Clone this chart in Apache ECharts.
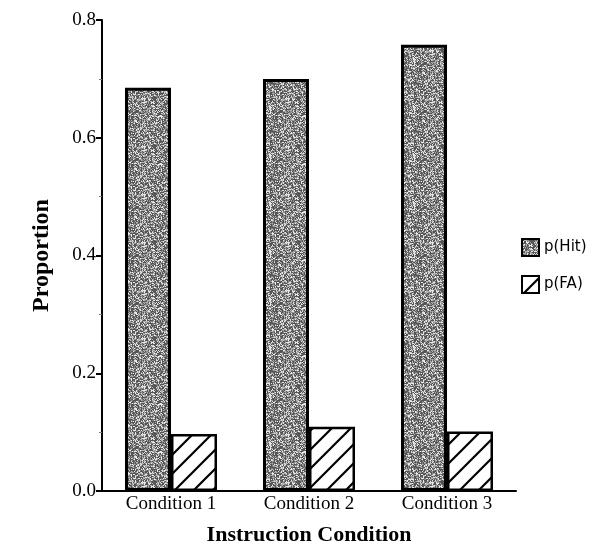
<!DOCTYPE html>
<html>
<head>
<meta charset="utf-8">
<script src="https://cdn.jsdelivr.net/npm/echarts@6/dist/echarts.min.js"></script>
<style>
  html, body { margin: 0; padding: 0; background: #fff; }
  #main { width: 603px; height: 551px; }
</style>
</head>
<body>
<div id="main"></div>
<script>
// 数据
var categories = ['Condition 1', 'Condition 2', 'Condition 3'];
var hitValues = [0.685, 0.70, 0.758];
var faValues = [0.097, 0.109, 0.101];
var yTicks = [0.0, 0.2, 0.4, 0.6, 0.8];

// 灰色点阵填充（固定的伪随机纹理）
function makeStipple() {
    var s = 48;
    var c = document.createElement('canvas');
    c.width = s; c.height = s;
    var ctx = c.getContext('2d');
    ctx.fillStyle = '#b4b4b4';
    ctx.fillRect(0, 0, s, s);
    var seed = 12345;
    for (var x = 0; x < s; x++) {
        for (var y = 0; y < s; y++) {
            seed = (seed * 1103515245 + 12345) & 0x7fffffff;
            var k = seed % 10;
            if (k < 3) { ctx.fillStyle = '#555'; ctx.fillRect(x, y, 1, 1); }
            else if (k < 5) { ctx.fillStyle = '#888'; ctx.fillRect(x, y, 1, 1); }
            else if (k < 7) { ctx.fillStyle = '#e8e8e8'; ctx.fillRect(x, y, 1, 1); }
        }
    }
    return c;
}

// 斜线填充
function makeHatch() {
    var s = 19;
    var c = document.createElement('canvas');
    c.width = s; c.height = s;
    var ctx = c.getContext('2d');
    ctx.fillStyle = '#fff';
    ctx.fillRect(0, 0, s, s);
    ctx.strokeStyle = '#000';
    ctx.lineWidth = 2.2;
    ctx.beginPath();
    ctx.moveTo(0, s); ctx.lineTo(s, 0);
    ctx.moveTo(-s / 2, s / 2); ctx.lineTo(s / 2, -s / 2);
    ctx.moveTo(s / 2, s * 1.5); ctx.lineTo(s * 1.5, s / 2);
    ctx.stroke();
    return c;
}

var serif = '"Liberation Serif", "DejaVu Serif", serif';
var myChart = echarts.init(document.getElementById('main'));

myChart.setOption({
    animation: false,
    legend: {
        orient: 'vertical',
        left: 516,
        top: 233,
        icon: 'rect',
        itemWidth: 17,
        itemHeight: 17,
        itemGap: 18,
        textStyle: { fontFamily: '"DejaVu Sans", sans-serif', fontSize: 15, color: '#000' },
        data: ['p(Hit)', 'p(FA)']
    },
    grid: {
        left: 102,
        right: 87,
        top: 20,
        bottom: 54
    },
    xAxis: {
        type: 'category',
        data: categories,
        name: 'Instruction Condition',
        nameLocation: 'middle',
        nameGap: 33,
        nameTextStyle: { fontFamily: serif, fontSize: 22, fontWeight: 'bold', color: '#000' },
        axisLine: { lineStyle: { color: '#000', width: 2 } },
        axisTick: { show: false },
        axisLabel: { fontFamily: serif, fontSize: 19, color: '#000', margin: 4 }
    },
    yAxis: {
        type: 'value',
        min: yTicks[0],
        max: yTicks[yTicks.length - 1],
        interval: 0.2,
        name: 'Proportion',
        nameLocation: 'middle',
        nameGap: 48,
        nameTextStyle: { fontFamily: serif, fontSize: 24, fontWeight: 'bold', color: '#000' },
        axisLine: { show: true, lineStyle: { color: '#000', width: 2 } },
        axisTick: { show: true, length: 6, lineStyle: { color: '#000', width: 2 } },
        minorTick: { show: true, splitNumber: 2, length: 3, lineStyle: { color: '#777' } },
        splitLine: { show: false },
        axisLabel: {
            fontFamily: serif, fontSize: 19, color: '#000', margin: 6,
            formatter: function (v) { return v.toFixed(1); }
        }
    },
    series: [
        {
            name: 'p(Hit)',
            type: 'bar',
            barWidth: 46,
            barGap: '0%',
            itemStyle: {
                color: { image: makeStipple(), repeat: 'repeat' },
                borderColor: '#000',
                borderWidth: 3
            },
            data: hitValues
        },
        {
            name: 'p(FA)',
            type: 'bar',
            barWidth: 46,
            itemStyle: {
                color: { image: makeHatch(), repeat: 'repeat' },
                borderColor: '#000',
                borderWidth: 2.5
            },
            data: faValues
        }
    ]
});
</script>
</body>
</html>
